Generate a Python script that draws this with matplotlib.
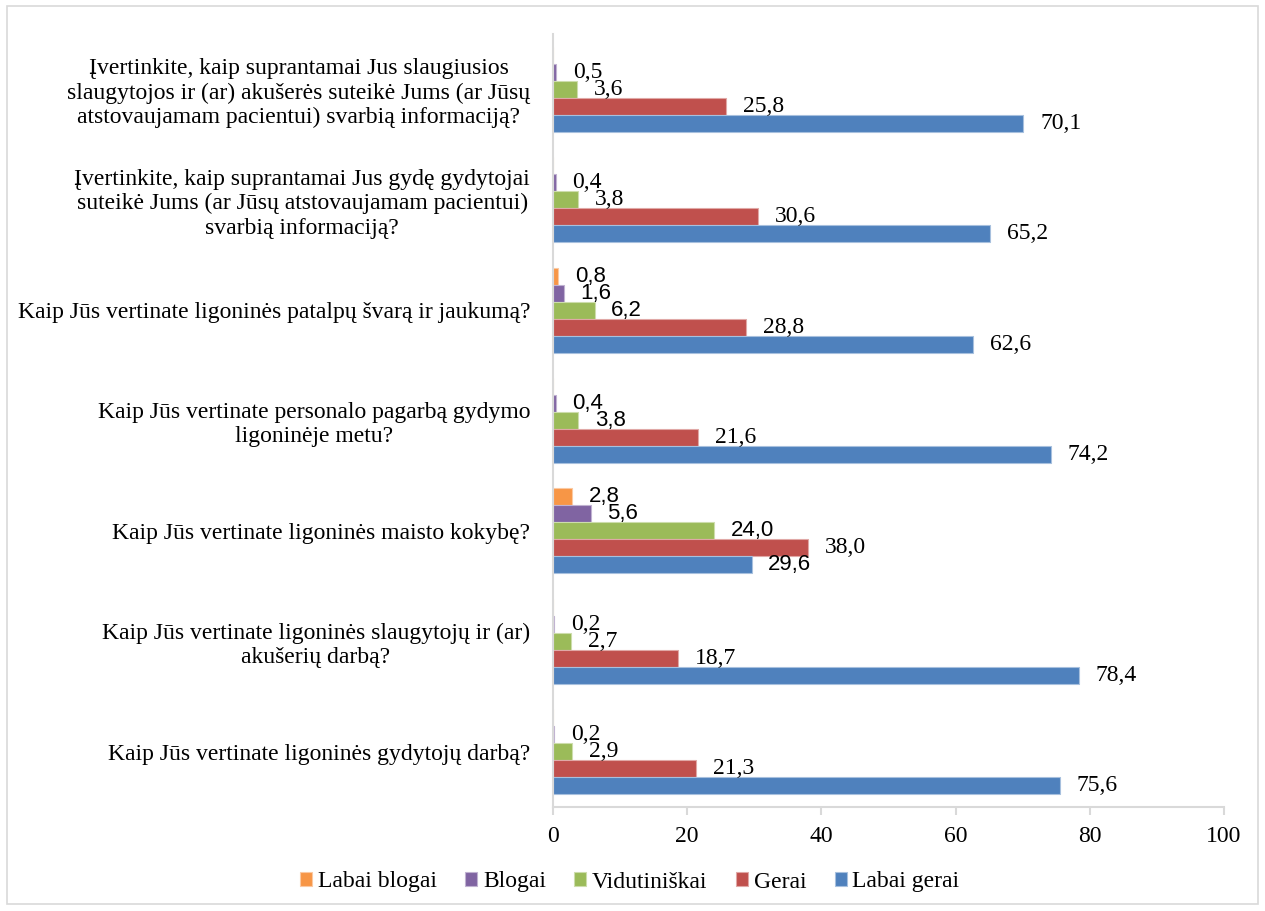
import numpy as np
import matplotlib
matplotlib.use('Agg')
import matplotlib.pyplot as plt
from matplotlib.patches import Rectangle

''' Data '''
questions = [
    'Įvertinkite, kaip suprantamai Jus slaugiusios\nslaugytojos ir (ar) akušerės suteikė Jums (ar Jūsų\natstovaujamam pacientui) svarbią informaciją?',
    'Įvertinkite, kaip suprantamai Jus gydę gydytojai\nsuteikė Jums (ar Jūsų atstovaujamam pacientui)\nsvarbią informaciją?',
    'Kaip Jūs vertinate ligoninės patalpų švarą ir jaukumą?',
    'Kaip Jūs vertinate personalo pagarbą gydymo\nligoninėje metu?',
    'Kaip Jūs vertinate ligoninės maisto kokybę?',
    'Kaip Jūs vertinate ligoninės slaugytojų ir (ar)\nakušerių darbą?',
    'Kaip Jūs vertinate ligoninės gydytojų darbą?',
]
series_names = ['Labai blogai', 'Blogai', 'Vidutiniškai', 'Gerai', 'Labai gerai']
labai_blogai = [0, 0, 0.8, 0, 2.8, 0, 0]
blogai = [0.5, 0.4, 1.6, 0.4, 5.6, 0.2, 0.2]
vidutiniskai = [3.6, 3.8, 6.2, 3.8, 24.0, 2.7, 2.9]
gerai = [25.8, 30.6, 28.8, 21.6, 38.0, 18.7, 21.3]
labai_gerai = [70.1, 65.2, 62.6, 74.2, 29.6, 78.4, 75.6]
series = [labai_blogai, blogai, vidutiniskai, gerai, labai_gerai]
colors = ['#F79646', '#8064A2', '#9BBB59', '#C0504D', '#4F81BD']
edges = ['#FBC9A2', '#C0B2D1', '#CDDDAC', '#E0A8A6', '#A7C0DE']

# labels that were drawn in a sans font in the original
sans_cells = {(2, 0), (2, 1), (2, 2), (4, 0), (4, 1), (4, 2), (3, 1), (3, 2), (4, 4)}

plt.rcParams['font.family'] = ['Liberation Serif', 'DejaVu Serif']

fig = plt.figure(figsize=(12.65, 9.11), dpi=100)
ax = fig.add_axes([553/1265, 1-807/911, 671/1265, 773/911])

n = len(questions)
ypos = np.arange(n)[::-1]
h = 0.154

for j, (name, vals) in enumerate(zip(series_names, series)):
    y = ypos + (2 - j)*h
    bars = ax.barh(y, vals, height=h, color=colors[j], edgecolor=edges[j], linewidth=0.8, label=name)
    labs = ['' if v == 0 else '{:.1f}'.format(v).replace('.', ',') for v in vals]
    texts = ax.bar_label(bars, labels=labs, padding=12, fontsize=17)
    for i, t in enumerate(texts):
        if (i, j) in sans_cells:
            t.set_fontfamily('Liberation Sans')
            t.set_fontsize(16)

ax.set_xlim(0, 100)
ax.set_ylim(-0.5, n - 0.5)
ax.set_xticks(range(0, 101, 20))
ax.set_yticks(ypos)
ax.set_yticklabels(questions, ha='right', multialignment='center', linespacing=1.2, fontsize=17)
ax.tick_params(axis='y', length=0, pad=16.5)
ax.tick_params(axis='x', length=6, width=1.5, color='#d9d9d9', pad=8, labelsize=17)

ax.spines['top'].set_visible(False)
ax.spines['right'].set_visible(False)
ax.spines['left'].set_color('#d9d9d9')
ax.spines['bottom'].set_color('#d9d9d9')
ax.spines['left'].set_linewidth(1.5)
ax.spines['bottom'].set_linewidth(1.5)

fig.legend(loc='center', bbox_to_anchor=(0.498, 1-882/911), ncol=5, frameon=False, fontsize=17,
           handlelength=0.5, handleheight=0.5, handletextpad=0.25, columnspacing=1.2)

fig.patches.append(Rectangle((7/1265, 7/911), 1251/1265, 898/911, transform=fig.transFigure,
                             fill=False, edgecolor='#d9d9d9', linewidth=1.2))

plt.savefig('out.png', dpi=100)
